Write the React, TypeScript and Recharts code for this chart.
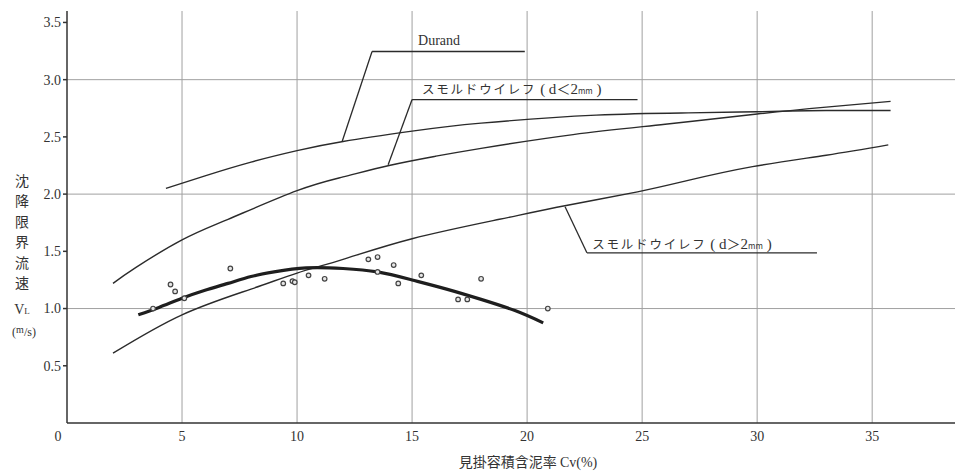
import {
  ComposedChart,
  Line,
  Scatter,
  XAxis,
  YAxis,
  CartesianGrid,
  ReferenceLine,
  ReferenceDot,
} from "recharts";

const xTicks = [0, 5, 10, 15, 20, 25, 30, 35];
const yTicks = [0.5, 1, 1.5, 2, 2.5, 3, 3.5];

// Durand
const durandCv = [4.3, 6, 8, 10, 12, 15, 18, 23, 27, 30, 33, 35.8];
const durandVl = [2.05, 2.16, 2.28, 2.38, 2.46, 2.55, 2.62, 2.69, 2.71, 2.72, 2.73, 2.73];
// スモルドウイレフ d<2mm
const fineCv = [2, 3, 5, 7, 10, 12, 14, 16, 18, 22, 26, 30, 33, 35.8];
const fineVl = [1.22, 1.36, 1.6, 1.78, 2.03, 2.15, 2.25, 2.33, 2.4, 2.52, 2.61, 2.7, 2.76, 2.81];
// スモルドウイレフ d>2mm
const coarseCv = [2, 5, 8, 10, 12, 15, 18.8, 21.7, 24.8, 27, 29.8, 33, 35.7];
const coarseVl = [0.61, 0.945, 1.17, 1.31, 1.43, 1.61, 1.78, 1.9, 2.02, 2.12, 2.24, 2.34, 2.43];
// 実測値の近似曲線
const fitCv = [3.1, 4, 5, 6, 7, 8, 9, 10.4, 12, 13.5, 15, 16.5, 18, 19.5, 20.7];
const fitVl = [0.945, 1.01, 1.09, 1.16, 1.22, 1.28, 1.32, 1.355, 1.35, 1.32, 1.25, 1.17, 1.08, 0.98, 0.875];
// 実測値
const obsCv = [3.74, 4.5, 4.7, 5.1, 7.1, 9.4, 9.8, 9.9, 10.5, 11.2, 13.1, 13.5, 13.5, 14.2, 14.4, 15.4, 17.0, 17.4, 18.0, 20.9];
const obsVl = [1.0, 1.21, 1.15, 1.09, 1.35, 1.22, 1.24, 1.23, 1.29, 1.26, 1.43, 1.45, 1.32, 1.38, 1.22, 1.29, 1.08, 1.08, 1.26, 1.0];

const toPts = (xs: number[], ys: number[]) => xs.map((x, i) => ({ x, y: ys[i] }));

const durand = toPts(durandCv, durandVl);
const fine = toPts(fineCv, fineVl);
const coarse = toPts(coarseCv, coarseVl);
const fit = toPts(fitCv, fitVl);
const obs = toPts(obsCv, obsVl);

const ink = "#2b2b2b";
const serif = "'Liberation Serif', 'DejaVu Serif', serif";
const jp = "'Noto Sans CJK JP', sans-serif";

const XTick = (props: any) => {
  const { x, y, payload } = props;
  const dx = payload.value === 0 ? -9 : 0;
  return (
    <text x={x + dx} y={y} dy="0.71em" textAnchor="middle" fontFamily={serif} fontSize={14} fill="#333">
      {payload.value}
    </text>
  );
};

const YTick = (props: any) => {
  const { x, y, payload } = props;
  return (
    <text x={x} y={y} dy="0.35em" textAnchor="end" fontFamily={serif} fontSize={14} fill="#333">
      {payload.value.toFixed(1)}
    </text>
  );
};

const YLabel = (props: any) => {
  const { viewBox } = props;
  const cx = viewBox.x + 15;
  const top = viewBox.y + 175;
  const chars = "沈降限界流速".split("");
  return (
    <g fill="#333">
      {chars.map((c, i) => (
        <text key={i} x={cx} y={top + i * 20.4} textAnchor="middle" fontFamily={jp} fontSize={14}>
          {c}
        </text>
      ))}
      <text x={cx} y={top + 128} textAnchor="middle" fontFamily={serif} fontSize={14}>
        V<tspan fontSize={9}>L</tspan>
      </text>
      <text x={cx + 2} y={top + 150} textAnchor="middle" fontFamily={serif} fontSize={12}>
        (<tspan fontSize={10} dy={-3}>m</tspan>
        <tspan dy={3}>/s)</tspan>
      </text>
    </g>
  );
};

const XLabel = (props: any) => {
  const { viewBox } = props;
  return (
    <text
      x={viewBox.x + viewBox.width / 2 + 17}
      y={viewBox.y + 44}
      textAnchor="middle"
      fontFamily={jp}
      fontSize={14}
      fill="#333"
    >
      見掛容積含泥率 <tspan fontFamily={serif}>Cv(%)</tspan>
    </text>
  );
};

const note = (kana: string, sign: string) => (p: any) => (
  <text x={p.cx} y={p.cy} fontFamily={jp} fontSize={12.5} fill="#333">
    <tspan letterSpacing={1.8}>{kana}</tspan>
    <tspan fontFamily={serif} fontSize={15}> ( d</tspan>
    <tspan fontSize={14}>{sign}</tspan>
    <tspan fontFamily={serif} fontSize={15}>2</tspan>
    <tspan fontSize={8}>mm</tspan>
    <tspan fontFamily={serif} fontSize={15}> )</tspan>
  </text>
);

const ObsDot = (p: any) => (
  <circle cx={p.cx} cy={p.cy} r={2.3} fill="#e6e6e6" stroke="#444" strokeWidth={1.2} />
);

export default function App() {
  return (
    <div style={{ position: "absolute", left: 0, top: 0, background: "#fff" }}>
      <ComposedChart width={955} height={471} margin={{ top: 11, right: 0, bottom: 18, left: 7 }}>
        <CartesianGrid
          stroke="#a0a0a0"
          strokeWidth={1}
          horizontalValues={[1, 2, 3]}
          verticalValues={[5, 10, 15, 20, 25, 30, 35]}
        />
        <XAxis
          type="number"
          dataKey="x"
          domain={[0, 38.6]}
          ticks={xTicks}
          tick={<XTick />}
          tickLine={false}
          height={30}
          stroke="#333"
          strokeWidth={1.5}
          label={<XLabel />}
          allowDataOverflow
        />
        <YAxis
          type="number"
          dataKey="y"
          domain={[0, 3.6]}
          ticks={yTicks}
          tick={<YTick />}
          tickSize={4}
          width={60}
          stroke="#333"
          strokeWidth={1.5}
          label={<YLabel />}
          allowDataOverflow
        />

        <Line data={durand} dataKey="y" type="natural" stroke={ink} strokeWidth={1.4} dot={false} isAnimationActive={false} />
        <Line data={fine} dataKey="y" type="natural" stroke={ink} strokeWidth={1.4} dot={false} isAnimationActive={false} />
        <Line data={coarse} dataKey="y" type="natural" stroke={ink} strokeWidth={1.4} dot={false} isAnimationActive={false} />
        <Line data={fit} dataKey="y" type="natural" stroke="#1e1e1e" strokeWidth={3.2} dot={false} isAnimationActive={false} />
        <Scatter data={obs} dataKey="y" shape={<ObsDot />} isAnimationActive={false} />

        {/* 引出線 */}
        <ReferenceLine segment={[{ x: 13.26, y: 3.246 }, { x: 19.9, y: 3.246 }]} stroke={ink} strokeWidth={1.3} />
        <ReferenceLine segment={[{ x: 13.26, y: 3.246 }, { x: 11.96, y: 2.46 }]} stroke={ink} strokeWidth={1.3} />
        <ReferenceLine segment={[{ x: 15.0, y: 2.826 }, { x: 24.8, y: 2.826 }]} stroke={ink} strokeWidth={1.3} />
        <ReferenceLine segment={[{ x: 15.0, y: 2.826 }, { x: 13.96, y: 2.257 }]} stroke={ink} strokeWidth={1.3} />
        <ReferenceLine segment={[{ x: 22.6, y: 1.487 }, { x: 32.6, y: 1.487 }]} stroke={ink} strokeWidth={1.3} />
        <ReferenceLine segment={[{ x: 22.6, y: 1.487 }, { x: 21.65, y: 1.89 }]} stroke={ink} strokeWidth={1.3} />

        <ReferenceDot
          x={15.26}
          y={3.307}
          r={1}
          shape={(p: any) => (
            <text x={p.cx} y={p.cy} fontFamily={serif} fontSize={14} fill="#333">
              Durand
            </text>
          )}
        />
        <ReferenceDot x={15.43} y={2.878} r={1} shape={note("スモルドウイレフ", "＜")} />
        <ReferenceDot x={22.83} y={1.522} r={1} shape={note("スモルドウイレフ", "＞")} />
      </ComposedChart>
    </div>
  );
}
